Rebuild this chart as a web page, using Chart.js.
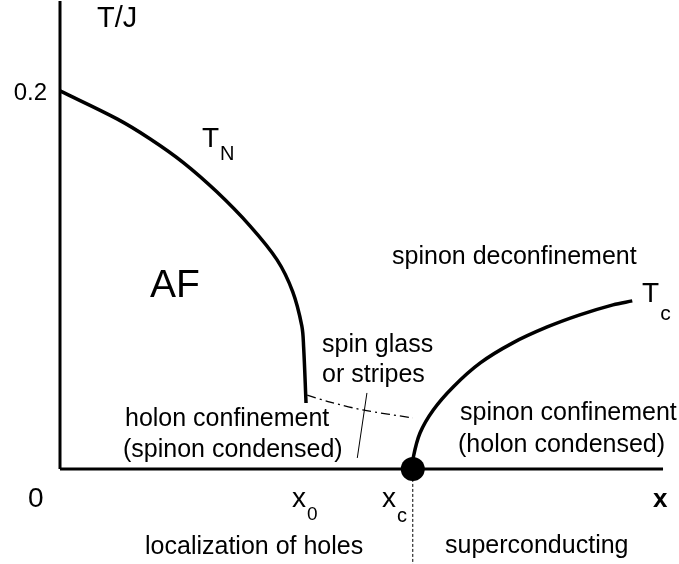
<!DOCTYPE html>
<html>
<head>
<meta charset="utf-8">
<script src="https://cdn.jsdelivr.net/npm/chart.js@4"></script>
<style>
  body { margin: 0; background: #fff; }
  #wrap { width: 679px; height: 564px; }
</style>
</head>
<body>
<div id="wrap"><canvas id="phase"></canvas></div>
<script>
// doping x (0..1 along the axis) and T/J
var tnX = [0, 0.0945, 0.149, 0.204, 0.26, 0.315, 0.36, 0.386, 0.401, 0.404, 0.408];
var tnY = [0.2, 0.1852, 0.1747, 0.1622, 0.1466, 0.1286, 0.1106, 0.0937, 0.0757, 0.0646, 0.0349];

var tcX = [0.585, 0.586, 0.597, 0.619, 0.652, 0.697, 0.751, 0.808, 0.862, 0.917, 0.949];
var tcY = [0, 0.0063, 0.019, 0.0312, 0.0434, 0.0561, 0.0667, 0.0751, 0.0815, 0.0868, 0.0889];

var glassX = [0.410, 0.448, 0.502, 0.585];
var glassY = [0.039, 0.0354, 0.0312, 0.027];

var crossX = [0.493, 0.509];
var crossY = [0.0058, 0.0402];

var x0 = 0.408;
var xc = 0.585;
var yTicks = [0.2];
var yTickLabels = ['0.2'];

function pts(xs, ys) {
  return xs.map(function (x, i) { return { x: x, y: ys[i] }; });
}

var labels = [
  { text: 'T/J', x: 0.0614, y: 0.2339, size: 29 },
  { text: 'AF', x: 0.1493, y: 0.091, size: 39 },
  { text: 'T', sub: 'N', x: 0.2355, y: 0.1704, size: 28, subSize: 20, subDy: 13 },
  { text: 'spinon deconfinement', x: 0.5506, y: 0.1085, size: 25 },
  { text: 'T', sub: 'c', x: 0.9652, y: 0.0884, size: 28, subSize: 21, subDy: 18 },
  { text: 'spin glass', x: 0.4345, y: 0.0619, size: 25 },
  { text: 'or stripes', x: 0.4345, y: 0.046, size: 25 },
  { text: 'holon confinement', x: 0.1078, y: 0.0228, size: 25 },
  { text: '(spinon condensed)', x: 0.1045, y: 0.0063, size: 25 },
  { text: 'spinon confinement', x: 0.6633, y: 0.0259, size: 25 },
  { text: '(holon condensed)', x: 0.6600, y: 0.009, size: 25 },
  { text: 'localization of holes', x: 0.141, y: -0.045, size: 25 },
  { text: 'superconducting', x: 0.6385, y: -0.0444, size: 25 },
  { text: '0', x: -0.0531, y: -0.0201, size: 28 },
  { text: 'x', sub: '0', x: x0 - 0.0233, y: -0.0201, size: 28, subSize: 19, subDy: 13 },
  { text: 'x', sub: 'c', x: xc - 0.051, y: -0.0201, size: 28, subSize: 20, subDy: 15 },
  { text: 'x', x: 0.9834, y: -0.0201, size: 26, bold: true }
];

var textPlugin = {
  id: 'phaseText',
  afterDatasetsDraw: function (chart) {
    var ctx = chart.ctx;
    var xs = chart.scales.x, ys = chart.scales.y;
    ctx.save();
    ctx.fillStyle = '#000';
    ctx.textBaseline = 'alphabetic';
    yTicks.forEach(function (v, i) {
      ctx.font = '24px "Liberation Sans", Arial, sans-serif';
      ctx.textAlign = 'right';
      ctx.fillText(yTickLabels[i], xs.getPixelForValue(0) - 13, ys.getPixelForValue(v) + 9);
    });
    ctx.textAlign = 'left';
    labels.forEach(function (l) {
      var px = xs.getPixelForValue(l.x), py = ys.getPixelForValue(l.y);
      ctx.font = (l.bold ? 'bold ' : '') + l.size + 'px "Liberation Sans", Arial, sans-serif';
      ctx.fillText(l.text, px, py);
      if (l.sub) {
        var w = ctx.measureText(l.text).width;
        ctx.font = l.subSize + 'px "Liberation Sans", Arial, sans-serif';
        ctx.fillText(l.sub, px + w + 1, py + l.subDy);
      }
    });
    ctx.restore();
  }
};

new Chart(document.getElementById('phase'), {
  type: 'scatter',
  data: {
    datasets: [
      { data: pts([0, 0], [0, 0.2476]), showLine: true, borderColor: '#000', borderWidth: 3, pointRadius: 0 },
      { data: pts([0, 1], [0, 0]), showLine: true, borderColor: '#000', borderWidth: 3, pointRadius: 0 },
      { data: pts([xc, xc], [0, -0.0503]), showLine: true, borderColor: '#000', borderWidth: 1, borderDash: [3, 2], pointRadius: 0 },
      { data: pts(tnX, tnY), showLine: true, borderColor: '#000', borderWidth: 3.5, pointRadius: 0, tension: 0.35 },
      { data: pts(tcX, tcY), showLine: true, borderColor: '#000', borderWidth: 3.5, pointRadius: 0, tension: 0.35 },
      { data: pts(glassX, glassY), showLine: true, borderColor: '#000', borderWidth: 1.3, borderDash: [9, 4, 2, 4], pointRadius: 0, tension: 0.3 },
      { data: pts(crossX, crossY), showLine: true, borderColor: '#000', borderWidth: 1, pointRadius: 0 },
      { data: [{ x: xc, y: 0 }], pointRadius: 12, pointBackgroundColor: '#000', pointBorderColor: '#000', borderWidth: 0 }
    ]
  },
  options: {
    responsive: true,
    maintainAspectRatio: false,
    animation: false,
    devicePixelRatio: 1,
    layout: { padding: 0, autoPadding: false },
    plugins: {
      legend: { display: false },
      tooltip: { enabled: false }
    },
    scales: {
      x: { type: 'linear', min: -0.0995, max: 1.0265, display: false },
      y: { type: 'linear', min: -0.0503, max: 0.2481, display: false }
    }
  },
  plugins: [textPlugin]
});
</script>
</body>
</html>
